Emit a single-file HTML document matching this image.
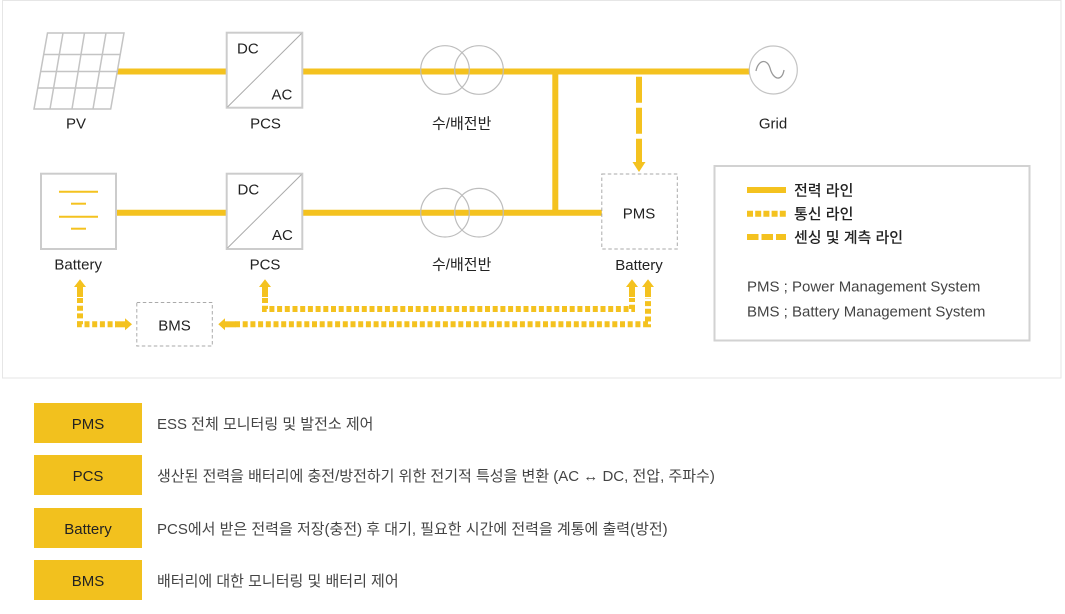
<!DOCTYPE html>
<html><head><meta charset="utf-8"><style>
html,body{margin:0;padding:0;background:#fff;width:1065px;height:614px;overflow:hidden}
svg{display:block}
text{font-family:"Liberation Sans","Noto Sans CJK KR",sans-serif;}
</style></head><body>
<svg width="1065" height="614" viewBox="0 0 1065 614" xmlns="http://www.w3.org/2000/svg">
<!-- outer frame -->
<rect x="2.5" y="0.5" width="1058.5" height="377.5" fill="#fff" stroke="#e6e6e6" stroke-width="1"/>

<!-- power lines -->
<g stroke="#F4C21F" stroke-width="6" fill="none">
<line x1="116" y1="71.5" x2="227" y2="71.5"/>
<line x1="302" y1="71.5" x2="750" y2="71.5"/>
<line x1="116" y1="212.7" x2="227" y2="212.7"/>
<line x1="302" y1="212.7" x2="602" y2="212.7"/>
<line x1="555.3" y1="71.5" x2="555.3" y2="212.7"/>
</g>

<!-- PV panel -->
<g stroke="#c4c4c4" stroke-width="1.5" fill="none">
<polygon points="47.5,33 124,33 110.7,109 34,109" fill="#fff"/>
<line x1="43.7" y1="54.5" x2="120.2" y2="54.5"/>
<line x1="40.7" y1="71.5" x2="117.2" y2="71.5"/>
<line x1="37.8" y1="88" x2="114.3" y2="88"/>
<line x1="63" y1="33" x2="50" y2="109"/>
<line x1="84.5" y1="33" x2="72" y2="109"/>
<line x1="106" y1="33" x2="93" y2="109"/>
</g>
<text x="76" y="128.5" font-size="15" fill="#222" text-anchor="middle">PV</text>

<!-- PCS upper -->
<rect x="226.7" y="32.7" width="75.6" height="75" fill="#fff" stroke="#cccccc" stroke-width="2"/>
<line x1="227.5" y1="107" x2="301.5" y2="33.5" stroke="#aaa" stroke-width="1"/>
<text x="237" y="53.7" font-size="15" fill="#222">DC</text>
<text x="271.5" y="99.3" font-size="15" fill="#222">AC</text>
<text x="265.5" y="128.5" font-size="15" fill="#222" text-anchor="middle">PCS</text>

<!-- transformers -->
<g stroke="#bdbdbd" stroke-width="1.2" fill="none">
<circle cx="445" cy="70" r="24.3"/>
<circle cx="479" cy="70" r="24.3"/>
<circle cx="445" cy="212.7" r="24.3"/>
<circle cx="479" cy="212.7" r="24.3"/>
</g>
<text x="461.7" y="128.7" font-size="15" fill="#222" text-anchor="middle">수/배전반</text>
<text x="461.7" y="269.5" font-size="15" fill="#222" text-anchor="middle">수/배전반</text>

<!-- Grid -->
<circle cx="773.3" cy="70" r="24" fill="#fff" stroke="#c4c4c4" stroke-width="1.2"/>
<path d="M756,71 C758,60 767,58 770,68 C773,80 782,82 784,70" fill="none" stroke="#999" stroke-width="1.3"/>
<text x="773" y="128.3" font-size="15" fill="#222" text-anchor="middle">Grid</text>

<!-- sensing dashed arrow -->
<line x1="639" y1="76.7" x2="639" y2="164" stroke="#F4C21F" stroke-width="6" stroke-dasharray="26 5"/>
<polygon points="632.5,162 645.5,162 639,172" fill="#F4C21F"/>

<!-- PMS box -->
<rect x="601.8" y="174" width="75.5" height="75" fill="#fff" stroke="#aaaaaa" stroke-width="1" stroke-dasharray="3.5 2.5"/>
<text x="639" y="218.5" font-size="15" fill="#222" text-anchor="middle">PMS</text>
<text x="639" y="270" font-size="15" fill="#222" text-anchor="middle">Battery</text>

<!-- Battery box -->
<rect x="41" y="173.7" width="75" height="75.3" fill="#fff" stroke="#cccccc" stroke-width="2"/>
<g stroke="#F4C21F" stroke-width="2">
<line x1="59" y1="191.7" x2="98" y2="191.7"/>
<line x1="71" y1="203.7" x2="86" y2="203.7"/>
<line x1="59" y1="216.7" x2="98" y2="216.7"/>
<line x1="71" y1="228.7" x2="86" y2="228.7"/>
</g>
<text x="78.2" y="269.3" font-size="15" fill="#222" text-anchor="middle">Battery</text>

<!-- PCS lower -->
<rect x="226.7" y="173.7" width="75.6" height="75.3" fill="#fff" stroke="#cccccc" stroke-width="2"/>
<line x1="227.5" y1="248" x2="301.5" y2="174.5" stroke="#aaa" stroke-width="1"/>
<text x="237.5" y="194.6" font-size="15" fill="#222">DC</text>
<text x="272" y="240" font-size="15" fill="#222">AC</text>
<text x="265" y="269.3" font-size="15" fill="#222" text-anchor="middle">PCS</text>

<!-- BMS box -->
<rect x="136.8" y="302.5" width="75.5" height="43.5" fill="#fff" stroke="#aaaaaa" stroke-width="1" stroke-dasharray="3.5 2.5"/>
<text x="174.5" y="330.5" font-size="15" fill="#222" text-anchor="middle">BMS</text>

<!-- comm dotted lines -->
<g stroke="#F4C21F" stroke-width="6" fill="none" stroke-dasharray="5 2.7" stroke-linejoin="miter">
<path d="M80,298 V324.3 H116"/>
<path d="M265,298 V309 H632 V298"/>
<path d="M235,324.3 H648 V298"/>
</g>
<g fill="#F4C21F">
<rect x="77" y="285" width="6" height="12"/>
<polygon points="74,287 86,287 80,279.3"/>
<rect x="115" y="321.3" width="10.5" height="6"/>
<polygon points="125,318.3 125,330.3 132,324.3"/>
<rect x="262" y="285" width="6" height="12"/>
<polygon points="259,287 271,287 265,279.3"/>
<rect x="629" y="285" width="6" height="12"/>
<polygon points="626,287 638,287 632,279.3"/>
<rect x="645" y="285" width="6" height="12"/>
<polygon points="642,287 654,287 648,279.3"/>
<rect x="224.5" y="321.3" width="11" height="6"/>
<polygon points="225,318.3 225,330.3 218.3,324.3"/>
</g>

<!-- legend -->
<rect x="714.5" y="166" width="315" height="174.5" fill="#fff" stroke="#d2d2d2" stroke-width="2"/>
<line x1="747" y1="190" x2="786" y2="190" stroke="#F4C21F" stroke-width="6"/>
<line x1="747" y1="213.7" x2="786" y2="213.7" stroke="#F4C21F" stroke-width="6" stroke-dasharray="6 2.2"/>
<line x1="747" y1="237" x2="786" y2="237" stroke="#F4C21F" stroke-width="6" stroke-dasharray="11.5 3"/>
<text x="794" y="195.5" font-size="15" fill="#222" font-weight="500">전력 라인</text>
<text x="794" y="219.2" font-size="15" fill="#222" font-weight="500">통신 라인</text>
<text x="794" y="242.5" font-size="15" fill="#222" font-weight="500">센싱 및 계측 라인</text>
<text x="747" y="291.5" font-size="15" fill="#444">PMS ; Power Management System</text>
<text x="747" y="316.5" font-size="15" fill="#444">BMS ; Battery Management System</text>

<!-- table -->
<g fill="#F2C11E">
<rect x="34" y="403" width="108" height="40"/>
<rect x="34" y="455" width="108" height="40"/>
<rect x="34" y="508" width="108" height="40"/>
<rect x="34" y="560" width="108" height="40"/>
</g>
<g font-size="15" fill="#222" text-anchor="middle">
<text x="88" y="428.8">PMS</text>
<text x="88" y="480.8">PCS</text>
<text x="88" y="533.8">Battery</text>
<text x="88" y="585.8">BMS</text>
</g>
<g font-size="15" fill="#444">
<text x="157" y="429">ESS 전체 모니터링 및 발전소 제어</text>
<text x="157" y="481">생산된 전력을 배터리에 충전/방전하기 위한 전기적 특성을 변환 (AC ↔ DC, 전압, 주파수)</text>
<text x="157" y="534">PCS에서 받은 전력을 저장(충전) 후 대기, 필요한 시간에 전력을 계통에 출력(방전)</text>
<text x="157" y="586">배터리에 대한 모니터링 및 배터리 제어</text>
</g>
</svg>
</body></html>
